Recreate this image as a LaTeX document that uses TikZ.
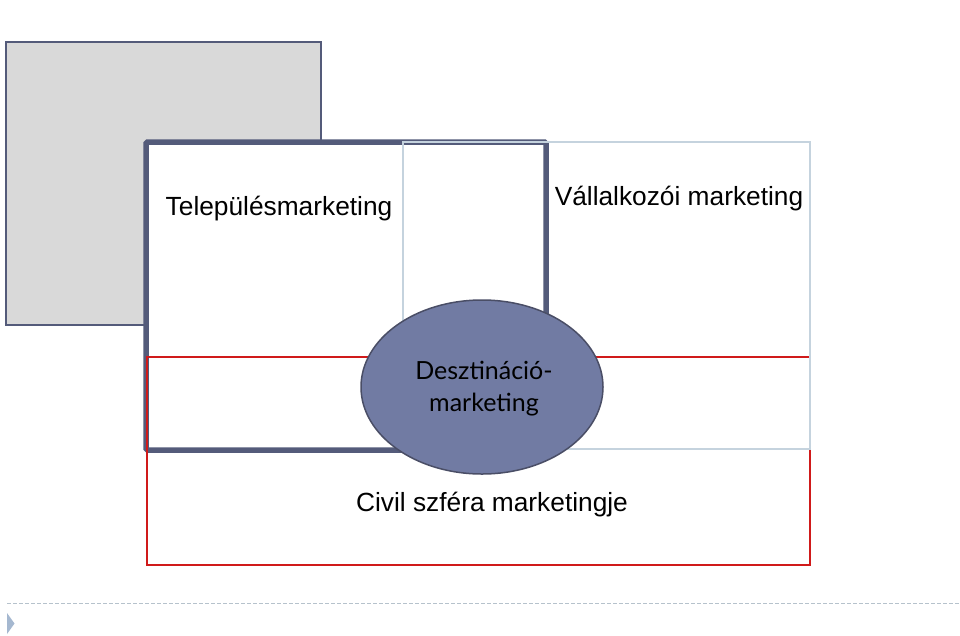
\documentclass[tikz,border=0pt]{standalone}
\usepackage{fontspec}
\setmainfont{Liberation Sans}
\newfontfamily\gillfont{Lato}
\usetikzlibrary{shapes.geometric}
\definecolor{grayfill}{HTML}{D9D9D9}
\definecolor{darkframe}{HTML}{545B7A}
\definecolor{lightframe}{HTML}{C5D3DE}
\definecolor{redframe}{HTML}{D01A1A}
\definecolor{ellfill}{HTML}{717BA3}
\definecolor{ellline}{HTML}{4A4E66}
\definecolor{dashcol}{HTML}{B6C2CC}
\definecolor{tricol}{HTML}{A5B8D0}
\tikzset{
  lbl/.style={font=\fontsize{26.3}{30}\selectfont, text=black, inner sep=0pt},
}
\begin{document}
\begin{tikzpicture}[x=1pt,y=-1pt]
\useasboundingbox (0,0) rectangle (960,635);
\fill[white] (0,0) rectangle (960,635);
% gray box
\draw[darkframe, line width=2.2pt, fill=grayfill] (6,42) rectangle (321,325);
% dark framed box
\draw[darkframe, line width=5.5pt, fill=white, rounded corners=1.5pt] (146,142) rectangle (546,450);
% red box
\draw[redframe, line width=2pt] (147,357) rectangle (810,565);
% light blue box
\draw[lightframe, line width=2pt] (403,142) rectangle (810,449);
% ellipse
\node[ellipse, draw=ellline, line width=1.5pt, fill=ellfill, minimum width=242pt, minimum height=174pt, inner sep=0pt] (dm) at (482,387) {};
\node[font=\gillfont\fontsize{25}{32}\selectfont, align=center, text=black] (dmt) at (484,389) {Desztináció-\\marketing};
% labels
\node[lbl] (tm) at (279,209) {Településmarketing};
\node[lbl] (vm) at (679,199) {Vállalkozói marketing};
\node[lbl] (cm) at (492,505) {Civil szféra marketingje};
% footer
\draw[dashcol, line width=1pt, dash pattern=on 4pt off 2pt] (7,603) -- (960,603);
\fill[tricol] (7,613) -- (14.5,623.5) -- (7,634) -- cycle;
\end{tikzpicture}
\end{document}
